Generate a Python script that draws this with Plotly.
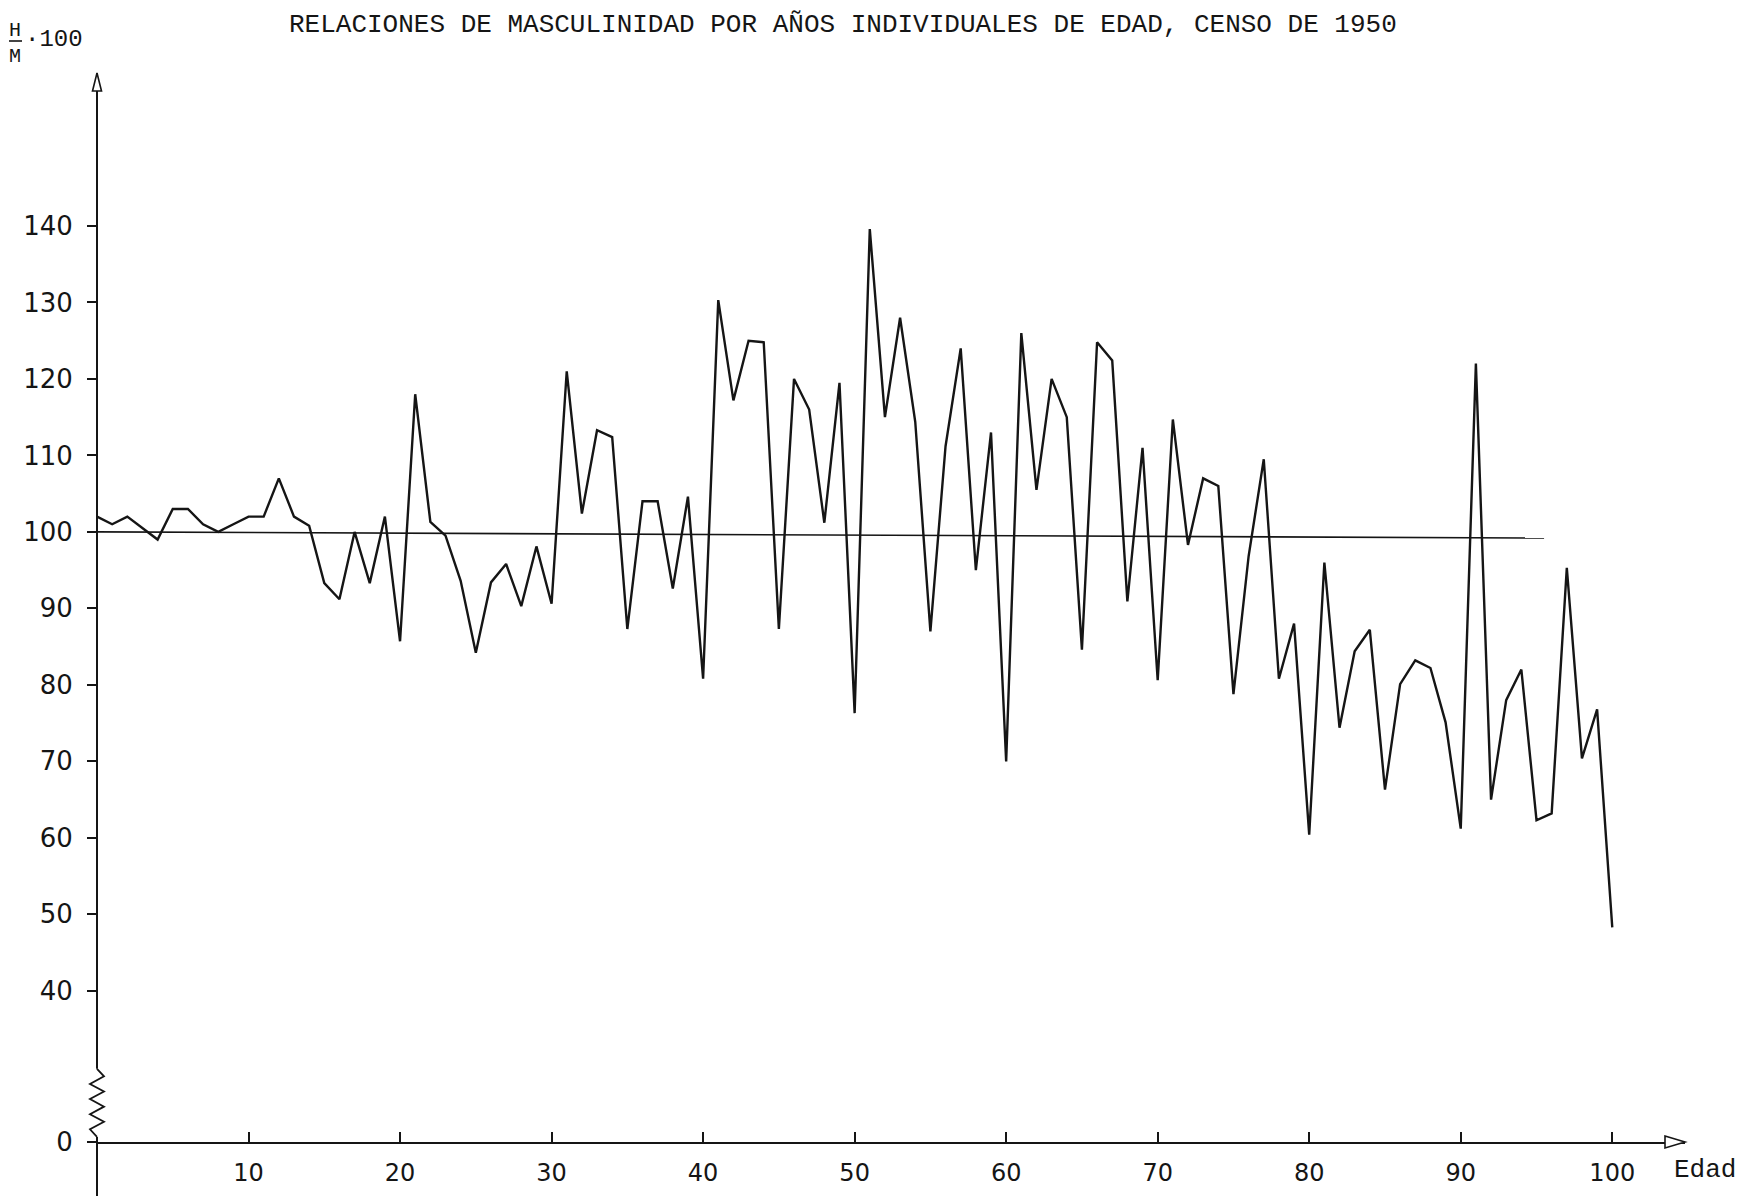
import plotly.graph_objects as go

# ---- data ----
edad = list(range(0, 101))
relacion = [
    102, 101, 102, 100.5, 99, 103, 103, 101, 100, 101,        # 0-9
    102, 102, 107, 102, 100.8, 93.3, 91.2, 100, 93.3, 102,    # 10-19
    85.7, 118, 101.3, 99.5, 93.6, 84.2, 93.4, 95.8, 90.3, 98.1,   # 20-29
    90.6, 121, 102.4, 113.3, 112.4, 87.3, 104, 104, 92.6, 104.6,  # 30-39
    80.8, 130.3, 117.2, 125, 124.8, 87.3, 120, 116, 101.2, 119.5,  # 40-49
    76.3, 139.6, 115, 128, 114.4, 87, 111.2, 124, 95, 113,         # 50-59
    70, 126, 105.5, 120, 115, 84.6, 124.8, 122.4, 90.9, 111,       # 60-69
    80.6, 114.7, 98.3, 107, 106, 78.8, 96.8, 109.5, 80.8, 88,      # 70-79
    60.4, 96, 74.4, 84.4, 87.2, 66.3, 80.1, 83.2, 82.2, 75.1,      # 80-89
    61.2, 122, 65, 78, 82, 62.3, 63.2, 95.3, 70.4, 76.8,           # 90-99
    48.3,                                                          # 100
]
ref_x = [0, 95.5]
ref_y = [100, 99.2]

y_tick_vals = [40, 50, 60, 70, 80, 90, 100, 110, 120, 130, 140]
x_tick_vals = [10, 20, 30, 40, 50, 60, 70, 80, 90, 100]

titulo = "RELACIONES DE MASCULINIDAD POR AÑOS INDIVIDUALES DE EDAD, CENSO DE 1950"

# ---- layout geometry (page pixels; the page body adds an 8 px offset) ----
W, H = 1752, 1196
OFF = 8
PL, PR, PT, PB = 97, 1685, 73, 1142          # plot box in page pixels
ML, MR, MT, MB = PL - OFF, W - (PR - OFF), PT - OFF, H - (PB - OFF)
PW, PH = PR - PL, PB - PT
Y0, Y1 = 20.23, 160.0   # axis bottom shown as "0" (broken axis)
X0, X1 = 0, 104.8

def px(xpage):
    return (xpage - PL) / PW

def py(ypage):
    return (PB - ypage) / PH

def yp(v):
    return (v - Y0) / (Y1 - Y0)

INK = "#151515"

fig = go.Figure()
fig.add_trace(go.Scatter(x=ref_x, y=ref_y, mode="lines",
                         line=dict(color=INK, width=1.6), hoverinfo="skip"))
fig.add_trace(go.Scatter(x=edad, y=relacion, mode="lines",
                         line=dict(color=INK, width=2.4)))

shapes = []
# y-axis line (broken by a zigzag near the bottom)
zz_top, zz_bot, n = 29.8, 20.9, 9
shapes.append(dict(type="line", xref="paper", yref="paper", x0=0, x1=0,
                   y0=yp(zz_top), y1=1, line=dict(color=INK, width=2)))
shapes.append(dict(type="line", xref="paper", yref="paper", x0=0, x1=0,
                   y0=py(H + 10), y1=yp(zz_bot), line=dict(color=INK, width=2)))
dx = 7 / PW
pts = []
for i in range(n + 1):
    v = zz_top - (zz_top - zz_bot) * i / n
    off = 0 if i in (0, n) else (dx if i % 2 else -dx)
    pts.append((off, yp(v)))
path = "M " + " L ".join(f"{a:.5f},{b:.5f}" for a, b in pts)
shapes.append(dict(type="path", xref="paper", yref="paper", path=path,
                   line=dict(color=INK, width=1.8)))
# arrow heads
ah_w, ah_h = 4.5 / PW, 18 / PH
shapes.append(dict(type="path", xref="paper", yref="paper",
                   path=f"M {-ah_w},{1-ah_h} L 0,1 L {ah_w},{1-ah_h} Z",
                   line=dict(color=INK, width=1.6), fillcolor="white"))
bx, by = 20 / PW, 6 / PH
shapes.append(dict(type="path", xref="paper", yref="paper",
                   path=f"M {1-bx},{by} L 1,0 L {1-bx},{-by} Z",
                   line=dict(color=INK, width=1.6), fillcolor="white"))
# fraction bar of H/M
shapes.append(dict(type="line", xref="paper", yref="paper",
                   x0=px(9), x1=px(22), y0=py(41), y1=py(41),
                   line=dict(color=INK, width=1.6)))

annotations = [
    dict(text=titulo, xref="paper", yref="paper", x=px(843), y=py(OFF),
         showarrow=False, xanchor="center", yanchor="top",
         font=dict(family="Liberation Mono", size=26, color=INK)),
    dict(text="H", xref="paper", yref="paper", x=px(15), y=py(30),
         showarrow=False, xanchor="center", yanchor="middle",
         font=dict(family="Liberation Mono", size=20, color=INK)),
    dict(text="M", xref="paper", yref="paper", x=px(15), y=py(57),
         showarrow=False, xanchor="center", yanchor="middle",
         font=dict(family="Liberation Mono", size=20, color=INK)),
    dict(text="·100", xref="paper", yref="paper", x=px(23), y=py(40),
         showarrow=False, xanchor="left", yanchor="middle",
         font=dict(family="Liberation Mono", size=24, color=INK)),
    dict(text="Edad", xref="paper", yref="paper", x=px(1705), y=py(1170),
         showarrow=False, xanchor="center", yanchor="middle",
         font=dict(family="Liberation Mono", size=26, color=INK)),
]

fig.update_layout(
    width=W, height=H,
    margin=dict(l=ML, r=MR, t=MT, b=MB, autoexpand=False),
    paper_bgcolor="white", plot_bgcolor="white",
    showlegend=False,
    shapes=shapes, annotations=annotations,
    xaxis=dict(range=[X0, X1], showgrid=False, zeroline=False,
               showline=True, linecolor=INK, linewidth=2,
               tickmode="array", tickvals=x_tick_vals,
               ticktext=[str(v) for v in x_tick_vals],
               ticks="inside", ticklen=10, tickwidth=2, tickcolor=INK,
               ticklabelstandoff=8, automargin=False,
               tickfont=dict(family="DejaVu Sans", size=24, color=INK)),
    yaxis=dict(range=[Y0, Y1], showgrid=False, zeroline=False,
               showline=False, automargin=False,
               tickmode="array", tickvals=[Y0] + y_tick_vals,
               ticktext=["0"] + [str(v) for v in y_tick_vals],
               ticks="outside", ticklen=9, tickwidth=2, tickcolor=INK,
               ticklabelstandoff=9,
               tickfont=dict(family="DejaVu Sans", size=26, color=INK)),
)

fig.write_html("out.html")
